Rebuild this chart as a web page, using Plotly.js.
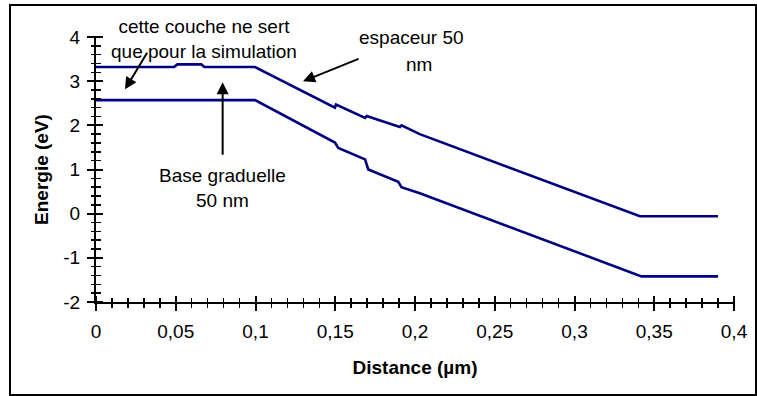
<!DOCTYPE html>
<html>
<head>
<meta charset="utf-8">
<script src="https://cdn.plot.ly/plotly-3.0.1.min.js"></script>
<style>
  html, body { margin: 0; padding: 0; background: #fff; }
  #chart { width: 757px; height: 396px; }
</style>
</head>
<body>
<div id="chart"></div>
<script>
// Upper curve (bande supérieure)
const upperX = [0, 0.049, 0.051, 0.066, 0.068, 0.0997, 0.1498, 0.1505, 0.1687, 0.1697, 0.1905, 0.1915, 0.203, 0.341, 0.39];
const upperY = [3.32, 3.32, 3.38, 3.38, 3.32, 3.32, 2.40, 2.47, 2.17, 2.21, 1.96, 2.00, 1.80, -0.06, -0.06];
// Lower curve (bande inférieure)
const lowerX = [0, 0.0997, 0.1498, 0.1519, 0.1687, 0.1707, 0.1895, 0.1915, 0.203, 0.342, 0.39];
const lowerY = [2.57, 2.57, 1.61, 1.49, 1.23, 1.00, 0.72, 0.60, 0.46, -1.42, -1.42];
// Tick labels
const yTickVals = [-2, -1, 0, 1, 2, 3, 4];
const yTickText = ["-2", "-1", "0", "1", "2", "3", "4"];

const FONT = 'Arial, "Liberation Sans", sans-serif';
const NAVY = '#000080';

// plot area size in px (for placing the crossing tick axes)
const PW = 638, PH = 265;

const traces = [
  { x: upperX, y: upperY, type: 'scatter', mode: 'lines', line: { color: NAVY, width: 2.6 }, hoverinfo: 'skip', showlegend: false },
  { x: lowerX, y: lowerY, type: 'scatter', mode: 'lines', line: { color: NAVY, width: 2.6 }, hoverinfo: 'skip', showlegend: false },
  // empty traces that only create the overlay axes used for crossing / minor ticks
  { x: [], y: [], xaxis: 'x2', yaxis: 'y2', type: 'scatter', mode: 'lines', hoverinfo: 'skip', showlegend: false },
  { x: [], y: [], xaxis: 'x3', yaxis: 'y3', type: 'scatter', mode: 'lines', hoverinfo: 'skip', showlegend: false }
];

const textFont = { family: FONT, size: 19, color: '#000' };

function tickAxis(over, range, dtick, side, pos, len, width) {
  return {
    overlaying: over, anchor: 'free', position: pos, side: side,
    range: range, dtick: dtick, tick0: 0, tickmode: 'linear',
    showgrid: false, zeroline: false, showline: false, showticklabels: false,
    ticks: 'outside', ticklen: len, tickwidth: width, tickcolor: '#000',
    fixedrange: true
  };
}

const layout = {
  width: 757, height: 396,
  margin: { l: 96, r: 23, t: 37, b: 94, pad: 0 },
  paper_bgcolor: '#fff', plot_bgcolor: '#fff',
  separators: ', ',
  showlegend: false,
  font: { family: FONT, size: 19, color: '#000' },
  xaxis: {
    range: [0, 0.4], dtick: 0.05, tick0: 0,
    showgrid: false, zeroline: false,
    showline: true, linecolor: '#000', linewidth: 2,
    ticks: 'outside', ticklen: 7, tickwidth: 2, tickcolor: '#000',
    ticklabelstandoff: 4,
    tickfont: { family: FONT, size: 19 },
    title: { text: 'Distance (µm)', font: { family: FONT, size: 19, weight: 'bold' }, standoff: 20 },
    fixedrange: true
  },
  yaxis: {
    range: [-2, 4], tickvals: yTickVals, ticktext: yTickText,
    showgrid: false, zeroline: false,
    showline: true, linecolor: '#000', linewidth: 2,
    ticks: 'outside', ticklen: 7, tickwidth: 2, tickcolor: '#000',
    ticklabelstandoff: 3,
    tickfont: { family: FONT, size: 19 },
    title: { text: 'Energie (eV)', font: { family: FONT, size: 19, weight: 'bold' }, standoff: 10 },
    fixedrange: true
  },
  // major crossing ticks (7 px each side of the axis line)
  xaxis2: tickAxis('x', [0, 0.4], 0.05, 'bottom', 7 / PH, 14, 2),
  yaxis2: tickAxis('y', [-2, 4], 1, 'left', 7 / PW, 14, 2),
  // minor crossing ticks (5 px each side)
  xaxis3: tickAxis('x', [0, 0.4], 0.01, 'bottom', 5 / PH, 10, 1.5),
  yaxis3: tickAxis('y', [-2, 4], 0.2, 'left', 5 / PW, 10, 1.5),
  shapes: [
    { type: 'rect', xref: 'paper', yref: 'paper',
      x0: (10 - 96) / PW, x1: (756 - 96) / PW,
      y0: (302 - 395) / PH, y1: (302 - 5) / PH,
      line: { color: '#000', width: 2 }, fillcolor: 'rgba(0,0,0,0)', layer: 'above' }
  ],
  annotations: [
    { xref: 'x', yref: 'y', x: 0.0677, y: 3.95, text: 'cette couche ne sert<br>que pour la simulation',
      showarrow: false, font: textFont, xanchor: 'center', yanchor: 'middle', align: 'center' },
    { xref: 'x', yref: 'y', x: 0.0796, y: 0.59, text: 'Base graduelle<br>50 nm',
      showarrow: false, font: textFont, xanchor: 'center', yanchor: 'middle', align: 'center' },
    { xref: 'x', yref: 'y', x: 0.1975, y: 3.98, text: 'espaceur 50',
      showarrow: false, font: textFont, xanchor: 'center', yanchor: 'middle' },
    { xref: 'x', yref: 'y', x: 0.2028, y: 3.38, text: 'nm',
      showarrow: false, font: textFont, xanchor: 'center', yanchor: 'middle' },
    // arrows
    { xref: 'x', yref: 'y', x: 0.0182, y: 2.815, ax: 23, ay: -38, text: '',
      showarrow: true, arrowhead: 2, arrowsize: 1.2, arrowwidth: 2, arrowcolor: '#000', standoff: 0 },
    { xref: 'x', yref: 'y', x: 0.0794, y: 2.974, ax: 0, ay: 74, text: '',
      showarrow: true, arrowhead: 2, arrowsize: 1.2, arrowwidth: 2, arrowcolor: '#000', standoff: 0 },
    { xref: 'x', yref: 'y', x: 0.1298, y: 2.997, ax: 57, ay: -23, text: '',
      showarrow: true, arrowhead: 2, arrowsize: 1.2, arrowwidth: 2, arrowcolor: '#000', standoff: 0 }
  ]
};

Plotly.newPlot('chart', traces, layout, { staticPlot: true, displayModeBar: false });
</script>
</body>
</html>
